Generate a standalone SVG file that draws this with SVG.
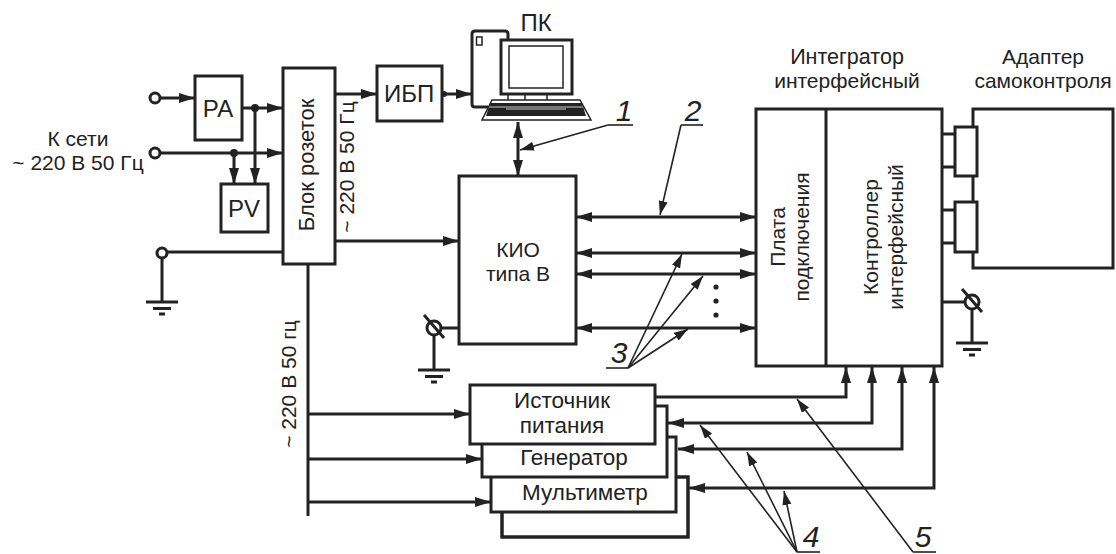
<svg xmlns="http://www.w3.org/2000/svg" width="1116" height="554" viewBox="0 0 1116 554">
<style>
text{font-family:"Liberation Sans",Arial,sans-serif;font-size:21px;fill:#222;text-anchor:middle}
.g{font-size:22.500px}
.h{font-size:24px}
.n{font-size:30px;font-style:italic}
.b{fill:#fff;stroke:#222;stroke-width:3}
.w{fill:none;stroke:#222;stroke-width:3}
.a{marker-end:url(#ah)}
.d{marker-start:url(#ah);marker-end:url(#ah)}
.l{fill:none;stroke:#222;stroke-width:1.6;marker-end:url(#lh)}
.u{fill:none;stroke:#222;stroke-width:1.6}
.o{fill:#fff;stroke:#222;stroke-width:3}
.f{fill:#222}
.t{fill:none;stroke:#222;stroke-width:1.5}
</style>
<defs>
<marker id="ah" markerUnits="userSpaceOnUse" markerWidth="18" markerHeight="12" refX="16" refY="5" orient="auto-start-reverse"><path d="M0 0L16 5L0 10Z" fill="#222"/></marker>
<marker id="lh" markerUnits="userSpaceOnUse" markerWidth="16" markerHeight="12" refX="14" refY="4.5" orient="auto"><path d="M0 0L14 4.500L0 9Z" fill="#222"/></marker>
<g id="gnd"><path class="w" d="M-16 0H16M-9 6.500H9M-3 12H3"/></g>
</defs>
<g id="connectors">
<path class="w a" d="M160 98H195"/>
<path class="w a" d="M242 108H283"/>
<path class="w a" d="M255 108V184"/>
<path class="w a" d="M160 153H283"/>
<path class="w a" d="M234 153V184"/>
<circle class="f" cx="255" cy="108" r="4"/>
<circle class="f" cx="234" cy="153" r="4"/>
<path class="w" d="M167 252H283M162 258V302"/>
<path class="w a" d="M335 94H377"/>
<path class="w a" d="M442 94H472"/>
<circle class="f" cx="444" cy="94" r="3"/>
<path class="w a" d="M335 241H459"/>
<path class="w d" d="M518 122V176"/>
<path class="w d" d="M576 217H756"/>
<path class="w d" d="M576 253H756"/>
<path class="w d" d="M576 274H756"/>
<path class="w d" d="M576 328H756"/>
<circle class="f" cx="716" cy="287" r="2.600"/>
<circle class="f" cx="716" cy="301" r="2.600"/>
<circle class="f" cx="716" cy="315" r="2.600"/>
<path class="w" d="M308 264V516"/>
<path class="w a" d="M308 414H470"/>
<path class="w a" d="M308 459H482"/>
<path class="w a" d="M308 502H491"/>
<path class="w a" d="M655 397H846V367"/>
<path class="w d" d="M872 367V423H668"/>
<path class="w d" d="M902 367V449H678"/>
<path class="w d" d="M934 367V488H689"/>
<path class="w" d="M441 328H459M434 335V370"/>
<use href="#gnd" x="434" y="370"/>
<path class="w" d="M942 302H965M972 309V343"/>
<use href="#gnd" x="972" y="343"/>
<use href="#gnd" x="162" y="302"/>
<path class="w" d="M942 134H955M942 167H955M942 210H955M942 243H955"/>
<path class="u" d="M633 125H608"/>
<path class="l" d="M608 125L520 150"/>
<path class="u" d="M703 125H681"/>
<path class="l" d="M681 125L660 215"/>
<path class="u" d="M606 368H628"/>
<path class="l" d="M628 368L682 254"/>
<path class="l" d="M628 368L703 276"/>
<path class="l" d="M628 368L688 329"/>
<path class="u" d="M797 552H820"/>
<path class="l" d="M797 552L700 425"/>
<path class="l" d="M797 552L747 452"/>
<path class="l" d="M797 552L784 491"/>
<path class="u" d="M913 552H936"/>
<path class="l" d="M913 552L797 399"/>
</g>
<g id="terminals">
<circle class="o" cx="155" cy="98" r="5"/>
<circle class="o" cx="155" cy="153" r="5"/>
<circle class="o" cx="162" cy="253" r="5"/>
<circle class="o" cx="434" cy="328" r="7"/>
<path class="w" d="M424 315L444 338"/>
<circle class="o" cx="972" cy="302" r="7"/>
<path class="w" d="M962 289L982 312"/>
</g>
<g id="labels">
<text x="78" y="146">К сети</text>
<text x="78" y="170">~ 220 В 50 Гц</text>
<text transform="translate(354 167) rotate(-90)">~ 220 В 50 Гц</text>
<text transform="translate(296 384) rotate(-90)">~ 220 В 50 гц</text>
<text class="h" x="536" y="31">ПК</text>
<text style="font-size:21.500px" x="847" y="64">Интегратор</text>
<text x="847" y="88">интерфейсный</text>
<text x="1043" y="64">Адаптер</text>
<text x="1043" y="88">самоконтроля</text>
<text class="n" x="624" y="121">1</text>
<text class="n" x="693" y="121">2</text>
<text class="n" x="619" y="363">3</text>
<text class="n" x="811" y="547">4</text>
<text class="n" x="923" y="547">5</text>
</g>
<g id="pa"><rect class="b" x="195" y="76" width="47" height="64"/><text class="h" x="218" y="117">РА</text></g>
<g id="pv"><rect class="b" x="221" y="184" width="47" height="48"/><text class="h" x="244" y="217">PV</text></g>
<g id="socket-block"><rect class="b" x="283" y="68" width="52" height="196"/><text style="font-size:22px" transform="translate(314 165) rotate(-90)">Блок розеток</text></g>
<g id="ups"><rect class="b" x="377" y="66" width="65" height="55"/><text class="h" x="409" y="102">ИБП</text></g>
<g id="pc">
<path class="w" d="M488 107H475Q472 107 472 104V34Q472 31 475 31H505Q508 31 508 34V40" stroke-width="2.500"/>
<rect class="t" x="476.500" y="37" width="5.500" height="8" stroke-width="2"/>
<rect class="b" x="501" y="40" width="71" height="54"/>
<rect class="t" x="509" y="46" width="54" height="42"/>
<path class="t" d="M508 94V100M525 94V100M547 94V100"/>
<path fill="#fff" stroke="#222" stroke-width="1.500" d="M492 100H580L591 120H482Z"/>
<path class="f" d="M490 103H582L586 116H486Z"/>
<path stroke="#ccc" stroke-width="1" fill="none" d="M489 107H583M506 109H566"/>
</g>
<g id="kio"><rect class="b" x="459" y="176" width="117" height="168"/><text x="518" y="257">КИО</text><text x="518" y="281">типа В</text></g>
<g id="integrator">
<rect class="b" x="756" y="109" width="186" height="257"/>
<path class="w" d="M826 109V366"/>
<text transform="translate(785 237) rotate(-90)">Плата</text>
<text transform="translate(809 237) rotate(-90)">подключения</text>
<text transform="translate(878 237) rotate(-90)">Контроллер</text>
<text transform="translate(903 237) rotate(-90)">интерфейсный</text>
</g>
<g id="adapter">
<rect class="b" x="973" y="109" width="140" height="159"/>
<rect class="b" x="955" y="127" width="22" height="49"/>
<rect class="b" x="955" y="202" width="22" height="50"/>
</g>
<g id="extra-unit"><rect class="b" x="502" y="477" width="186" height="60"/></g>
<g id="multimeter"><path class="w" d="M676 477H688V537H502V512"/><rect class="b" x="491" y="437" width="185" height="75"/><text class="g" x="585" y="500">Мультиметр</text></g>
<g id="generator"><rect class="b" x="482" y="406" width="185" height="71"/><text class="g" x="574" y="465">Генератор</text></g>
<g id="power"><rect class="b" x="470" y="385" width="185" height="59"/><text class="g" x="562" y="408">Источник</text><text class="g" x="562" y="433">питания</text></g>
</svg>
